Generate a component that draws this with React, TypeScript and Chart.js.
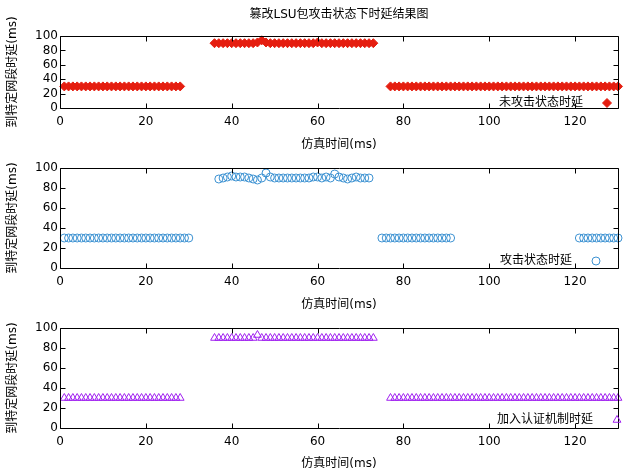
import React, { useEffect, useRef } from 'react';
import { Chart, registerables } from 'chart.js';

Chart.register(...registerables);

const CHART_TITLE = '篡改LSU包攻击状态下时延结果图';
const X_TITLE = '仿真时间(ms)';
const Y_TITLE = '到特定网段时延(ms)';
const X_TICKS = [0, 20, 40, 60, 80, 100, 120];
const Y_TICKS = [0, 20, 40, 60, 80, 100];

const LABEL_NORMAL = '未攻击状态时延';
const LABEL_ATTACK = '攻击状态时延';
const LABEL_AUTH = '加入认证机制时延';

// 未攻击状态时延
const timeNormal = [
  1, 2, 3, 4, 5, 6, 7, 8, 9, 10, 11, 12, 13, 14, 15, 16, 17, 18, 19, 20, 21, 22, 23, 24, 25, 26, 27, 28,
  36, 37, 38, 39, 40, 41, 42, 43, 44, 45, 46, 47, 48, 49, 50, 51, 52, 53, 54, 55, 56, 57, 58, 59, 60, 61, 62, 63, 64, 65, 66, 67, 68, 69, 70, 71, 72, 73,
  77, 78, 79, 80, 81, 82, 83, 84, 85, 86, 87, 88, 89, 90, 91, 92, 93, 94, 95, 96, 97, 98, 99, 100, 101, 102, 103, 104, 105, 106, 107, 108, 109, 110, 111, 112, 113, 114, 115, 116, 117, 118, 119, 120, 121, 122, 123, 124, 125, 126, 127, 128, 129, 130,
];
const delayNormal = [
  30, 30, 30, 30, 30, 30, 30, 30, 30, 30, 30, 30, 30, 30, 30, 30, 30, 30, 30, 30, 30, 30, 30, 30, 30, 30, 30, 30,
  90, 90, 90, 90, 90, 90, 90, 90, 90, 90, 91, 94, 91, 90, 90, 90, 90, 90, 90, 90, 90, 90, 90, 90, 91, 90, 90, 90, 90, 90, 90, 90, 90, 90, 90, 90, 90, 90,
  30, 30, 30, 30, 30, 30, 30, 30, 30, 30, 30, 30, 30, 30, 30, 30, 30, 30, 30, 30, 30, 30, 30, 30, 30, 30, 30, 30, 30, 30, 30, 30, 30, 30, 30, 30, 30, 30, 30, 30, 30, 30, 30, 30, 30, 30, 30, 30, 30, 30, 30, 30, 30, 30,
];

// 攻击状态时延
const timeAttack = [
  1, 2, 3, 4, 5, 6, 7, 8, 9, 10, 11, 12, 13, 14, 15, 16, 17, 18, 19, 20, 21, 22, 23, 24, 25, 26, 27, 28, 29, 30,
  37, 38, 39, 40, 41, 42, 43, 44, 45, 46, 47, 48, 49, 50, 51, 52, 53, 54, 55, 56, 57, 58, 59, 60, 61, 62, 63, 64, 65, 66, 67, 68, 69, 70, 71, 72,
  75, 76, 77, 78, 79, 80, 81, 82, 83, 84, 85, 86, 87, 88, 89, 90, 91,
  121, 122, 123, 124, 125, 126, 127, 128, 129, 130,
];
const delayAttack = [
  30, 30, 30, 30, 30, 30, 30, 30, 30, 30, 30, 30, 30, 30, 30, 30, 30, 30, 30, 30, 30, 30, 30, 30, 30, 30, 30, 30, 30, 30,
  89, 90, 91, 92, 91, 91, 91, 90, 89, 88, 90, 95, 91, 90, 90, 90, 90, 90, 90, 90, 90, 90, 91, 91, 90, 91, 90, 94, 91, 90, 89, 90, 91, 90, 90, 90,
  30, 30, 30, 30, 30, 30, 30, 30, 30, 30, 30, 30, 30, 30, 30, 30, 30,
  30, 30, 30, 30, 30, 30, 30, 30, 30, 30,
];

// 加入认证机制时延
const timeAuth = [
  1, 2, 3, 4, 5, 6, 7, 8, 9, 10, 11, 12, 13, 14, 15, 16, 17, 18, 19, 20, 21, 22, 23, 24, 25, 26, 27, 28,
  36, 37, 38, 39, 40, 41, 42, 43, 44, 45, 46, 47, 48, 49, 50, 51, 52, 53, 54, 55, 56, 57, 58, 59, 60, 61, 62, 63, 64, 65, 66, 67, 68, 69, 70, 71, 72, 73,
  77, 78, 79, 80, 81, 82, 83, 84, 85, 86, 87, 88, 89, 90, 91, 92, 93, 94, 95, 96, 97, 98, 99, 100, 101, 102, 103, 104, 105, 106, 107, 108, 109, 110, 111, 112, 113, 114, 115, 116, 117, 118, 119, 120, 121, 122, 123, 124, 125, 126, 127, 128, 129, 130,
];
const delayAuth = [
  30, 30, 30, 30, 30, 30, 30, 30, 30, 30, 30, 30, 30, 30, 30, 30, 30, 30, 30, 30, 30, 30, 30, 30, 30, 30, 30, 30,
  90, 90, 90, 90, 90, 90, 90, 90, 90, 90, 93, 90, 90, 90, 90, 90, 90, 90, 90, 90, 90, 90, 90, 90, 90, 90, 90, 90, 90, 90, 90, 90, 90, 90, 90, 90, 90, 90,
  30, 30, 30, 30, 30, 30, 30, 30, 30, 30, 30, 30, 30, 30, 30, 30, 30, 30, 30, 30, 30, 30, 30, 30, 30, 30, 30, 30, 30, 30, 30, 30, 30, 30, 30, 30, 30, 30, 30, 30, 30, 30, 30, 30, 30, 30, 30, 30, 30, 30, 30, 30, 30, 30,
];

const FONT = "'DejaVu Sans', 'Noto Sans CJK SC', sans-serif";

function toPoints(xs: number[], ys: number[]) {
  return xs.map((x, i) => ({ x, y: ys[i] }));
}

function drawMarker(ctx: CanvasRenderingContext2D, style: string, x: number, y: number, r: number, color: string, filled: boolean) {
  ctx.beginPath();
  if (style === 'rectRot') {
    ctx.moveTo(x - r, y);
    ctx.lineTo(x, y - r);
    ctx.lineTo(x + r, y);
    ctx.lineTo(x, y + r);
    ctx.closePath();
  } else if (style === 'triangle') {
    let rad = 0;
    ctx.moveTo(x + Math.sin(rad) * r, y - Math.cos(rad) * r);
    rad += (2 * Math.PI) / 3;
    ctx.lineTo(x + Math.sin(rad) * r, y - Math.cos(rad) * r);
    rad += (2 * Math.PI) / 3;
    ctx.lineTo(x + Math.sin(rad) * r, y - Math.cos(rad) * r);
    ctx.closePath();
  } else {
    ctx.arc(x, y, r, 0, Math.PI * 2);
  }
  ctx.lineWidth = 1;
  ctx.strokeStyle = color;
  ctx.stroke();
  if (filled) {
    ctx.fillStyle = color;
    ctx.fill();
  }
}

const framePlugin = {
  id: 'frame',
  afterDatasetsDraw(chart: any, _args: any, opts: any) {
    const { ctx, chartArea: a, scales } = chart;
    ctx.save();
    ctx.strokeStyle = '#000';
    ctx.lineWidth = 1;
    const L = Math.round(a.left) + 0.5;
    const R = Math.round(a.right) + 0.5;
    const T = Math.round(a.top) + 0.5;
    const B = Math.round(a.bottom) + 0.5;
    ctx.beginPath();
    ctx.rect(L, T, R - L, B - T);
    const tl = 5;
    scales.x.ticks.forEach((t: any) => {
      const px = Math.round(scales.x.getPixelForValue(t.value)) + 0.5;
      ctx.moveTo(px, B);
      ctx.lineTo(px, B - tl);
      ctx.moveTo(px, T);
      ctx.lineTo(px, T + tl);
    });
    scales.y.ticks.forEach((t: any) => {
      const py = Math.round(scales.y.getPixelForValue(t.value)) + 0.5;
      ctx.moveTo(L, py);
      ctx.lineTo(L + tl, py);
      ctx.moveTo(R, py);
      ctx.lineTo(R - tl, py);
    });
    ctx.stroke();

    // key
    const ds = chart.data.datasets[0];
    const ky = a.bottom - opts.keyDy;
    ctx.font = `12px ${FONT}`;
    ctx.fillStyle = '#000';
    ctx.textAlign = 'right';
    ctx.textBaseline = 'middle';
    ctx.fillText(ds.label, a.right - opts.textDx, ky);
    drawMarker(ctx, ds.pointStyle, a.right - opts.markerDx, ky, ds.pointRadius, ds.borderColor, opts.filled);
    ctx.restore();
  },
};

type PanelProps = {
  top: number;
  height: number;
  showTitle: boolean;
  areaTop: number;
  areaBottom: number;
  xTitlePad: number;
  label: string;
  xs: number[];
  ys: number[];
  pointStyle: string;
  radius: number;
  color: string;
  filled: boolean;
  keyDy: number;
  textDx: number;
  markerDx: number;
};

function Panel(p: PanelProps) {
  const ref = useRef<HTMLCanvasElement>(null);
  useEffect(() => {
    if (!ref.current) return;
    Chart.defaults.font.family = FONT;
    Chart.defaults.color = '#000';
    const chart = new Chart(ref.current, {
      type: 'scatter',
      data: {
        datasets: [
          {
            label: p.label,
            data: toPoints(p.xs, p.ys),
            pointStyle: p.pointStyle as any,
            pointRadius: p.radius,
            pointBorderWidth: 1,
            borderColor: p.color,
            pointBorderColor: p.color,
            backgroundColor: p.filled ? p.color : 'rgba(0,0,0,0)',
            pointBackgroundColor: p.filled ? p.color : 'rgba(0,0,0,0)',
            showLine: false,
            clip: false as any,
          } as any,
        ],
      },
      options: {
        responsive: false,
        animation: false,
        events: [],
        layout: { padding: { top: p.showTitle ? 0 : p.areaTop, right: 12, left: 0, bottom: 0 } },
        plugins: {
          legend: { display: false },
          tooltip: { enabled: false },
          title: {
            display: p.showTitle,
            text: CHART_TITLE,
            color: '#000',
            fullSize: false,
            font: { size: 12, weight: 'normal', family: FONT },
            padding: { top: 8, bottom: p.areaTop - 8 - 14.4 },
          },
          frame: { keyDy: p.keyDy, textDx: p.textDx, markerDx: p.markerDx, filled: p.filled },
        } as any,
        scales: {
          x: {
            type: 'linear',
            min: 0,
            max: 130,
            grid: { display: false, drawTicks: false },
            border: { display: false },
            ticks: { font: { size: 12 }, color: '#000', padding: 7, includeBounds: false, autoSkip: false, maxRotation: 0 },
            afterBuildTicks: (s: any) => {
              s.ticks = X_TICKS.map((v) => ({ value: v }));
            },
            afterFit: (s: any) => {
              s.height = p.height - p.areaBottom;
            },
            title: {
              display: true,
              text: X_TITLE,
              color: '#000',
              font: { size: 12 },
              padding: { top: 0, bottom: p.xTitlePad },
            },
          },
          y: {
            type: 'linear',
            min: 0,
            max: 100,
            grid: { display: false, drawTicks: false },
            border: { display: false },
            ticks: { font: { size: 12 }, color: '#000', padding: 2, autoSkip: false },
            afterBuildTicks: (s: any) => {
              s.ticks = Y_TICKS.map((v) => ({ value: v }));
            },
            afterFit: (s: any) => {
              s.width = 60;
            },
            title: {
              display: true,
              text: Y_TITLE,
              color: '#000',
              font: { size: 12 },
              padding: { top: 6, bottom: 0 },
            },
          },
        },
      },
      plugins: [framePlugin as any],
    });
    return () => chart.destroy();
  }, []);
  return (
    <canvas
      ref={ref}
      width={630}
      height={p.height}
      style={{ position: 'absolute', left: 0, top: p.top, width: 630, height: p.height, display: 'block' }}
    />
  );
}

export default function App() {
  return (
    <div style={{ position: 'fixed', left: 0, top: 0, width: 630, height: 474, background: '#fff', overflow: 'hidden' }}>
      <Panel
        top={0}
        height={158}
        showTitle={true}
        areaTop={36}
        areaBottom={108}
        xTitlePad={5.8}
        label={LABEL_NORMAL}
        xs={timeNormal}
        ys={delayNormal}
        pointStyle="rectRot"
        radius={4.5}
        color="#e51e10"
        filled={true}
        keyDy={5}
        textDx={35}
        markerDx={11}
      />
      <Panel
        top={158}
        height={158}
        showTitle={false}
        areaTop={10}
        areaBottom={110}
        xTitlePad={3.8}
        label={LABEL_ATTACK}
        xs={timeAttack}
        ys={delayAttack}
        pointStyle="circle"
        radius={4}
        color="#3d92d2"
        filled={false}
        keyDy={7}
        textDx={46}
        markerDx={22}
      />
      <Panel
        top={316}
        height={158}
        showTitle={false}
        areaTop={12}
        areaBottom={112}
        xTitlePad={2.8}
        label={LABEL_AUTH}
        xs={timeAuth}
        ys={delayAuth}
        pointStyle="triangle"
        radius={4.5}
        color="#a020f0"
        filled={false}
        keyDy={8}
        textDx={25}
        markerDx={1}
      />
    </div>
  );
}
